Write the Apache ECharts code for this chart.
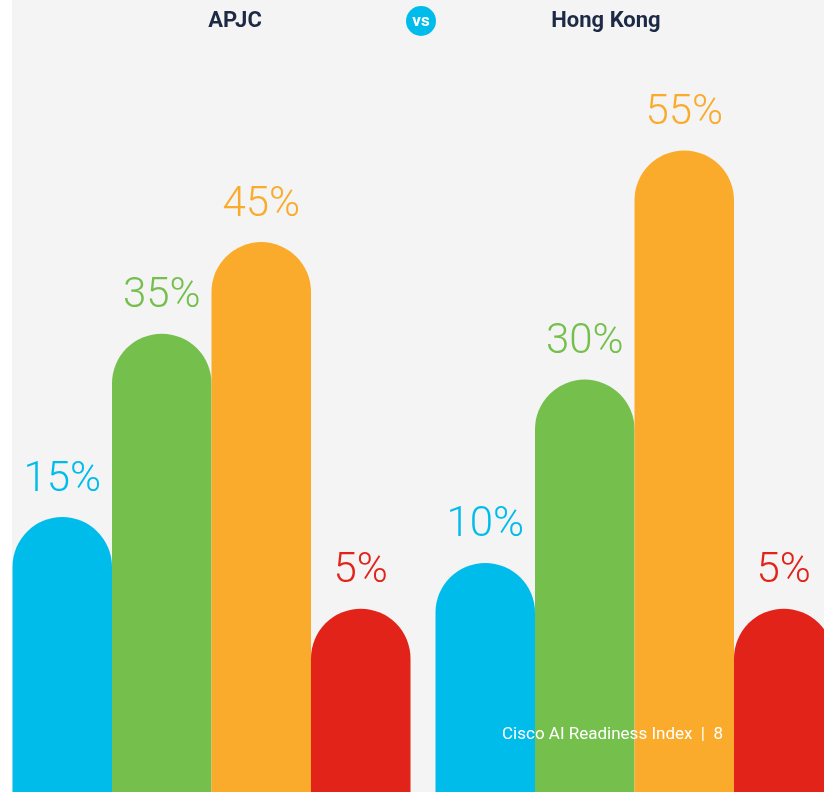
<!DOCTYPE html>
<html>
<head>
<meta charset="utf-8">
<script src="https://cdn.jsdelivr.net/npm/echarts@6/dist/echarts.min.js"></script>
<style>
  html, body { margin: 0; padding: 0; overflow: hidden; background: #ffffff; }
  #chart { width: 846px; height: 792px; }
</style>
</head>
<body>
<div id="chart"></div>
<script>
// regions compared
const regions = ['APJC', 'Hong Kong']

// share of organisations per readiness group (%)
const pacesetters = [15, 10]
const chasers = [35, 30]
const followers = [45, 55]
const laggards = [5, 5]

// bars rise from the bottom of the axis, not from zero
const axisMin = -15
const axisMax = 70

const groups = [
  { name: 'Pacesetters', data: pacesetters, color: '#00bceb' },
  { name: 'Chasers', data: chasers, color: '#75bf4c' },
  { name: 'Followers', data: followers, color: '#fbab2c' },
  { name: 'Laggards', data: laggards, color: '#e2231a' }
]

const chart = echarts.init(document.getElementById('chart'))

const series = groups.map(g => ({
  name: g.name,
  type: 'bar',
  barGap: 0,
  barCategoryGap: 25,
  data: g.data.map(v => ({ value: v - axisMin, raw: v })),
  itemStyle: {
    color: g.color,
    borderRadius: [50, 50, 0, 0]
  },
  label: {
    show: true,
    position: 'top',
    distance: 15,
    color: g.color,
    fontFamily: 'Roboto',
    fontWeight: 300,
    fontSize: 42,
    lineHeight: 44,
    formatter: p => p.data.raw + '%'
  }
}))

chart.setOption({
  backgroundColor: '#f4f4f4',
  animation: false,
  grid: { left: 0, right: 0, top: 13, bottom: 0 },
  xAxis: {
    type: 'category',
    data: regions,
    show: false
  },
  yAxis: {
    type: 'value',
    min: 0,
    max: axisMax - axisMin,
    show: false
  },
  graphic: [
    // white margin strip on the left
    { type: 'rect', left: 0, top: 0, shape: { width: 12, height: 792 }, style: { fill: '#ffffff' }, z: -1 },
    {
      type: 'text', x: 235, y: 21,
      style: { text: 'APJC', fill: '#1d2a45', font: 'bold 22px Roboto', align: 'center', verticalAlign: 'middle' }
    },
    {
      type: 'circle', shape: { cx: 421, cy: 21, r: 15 },
      style: { fill: '#00bceb' }
    },
    {
      type: 'text', x: 421, y: 22,
      style: { text: 'vs', fill: '#ffffff', font: 'bold 17px Roboto', align: 'center', verticalAlign: 'middle' }
    },
    {
      type: 'text', x: 606, y: 21,
      style: { text: 'Hong Kong', fill: '#1d2a45', font: 'bold 22px Roboto', align: 'center', verticalAlign: 'middle' }
    },
    {
      type: 'text', x: 723, y: 735, z: 100,
      style: { text: 'Cisco AI Readiness Index  |  8', fill: '#ffffff', font: '17px Roboto', align: 'right', verticalAlign: 'middle' }
    }
  ],
  series: series
})
</script>
</body>
</html>
